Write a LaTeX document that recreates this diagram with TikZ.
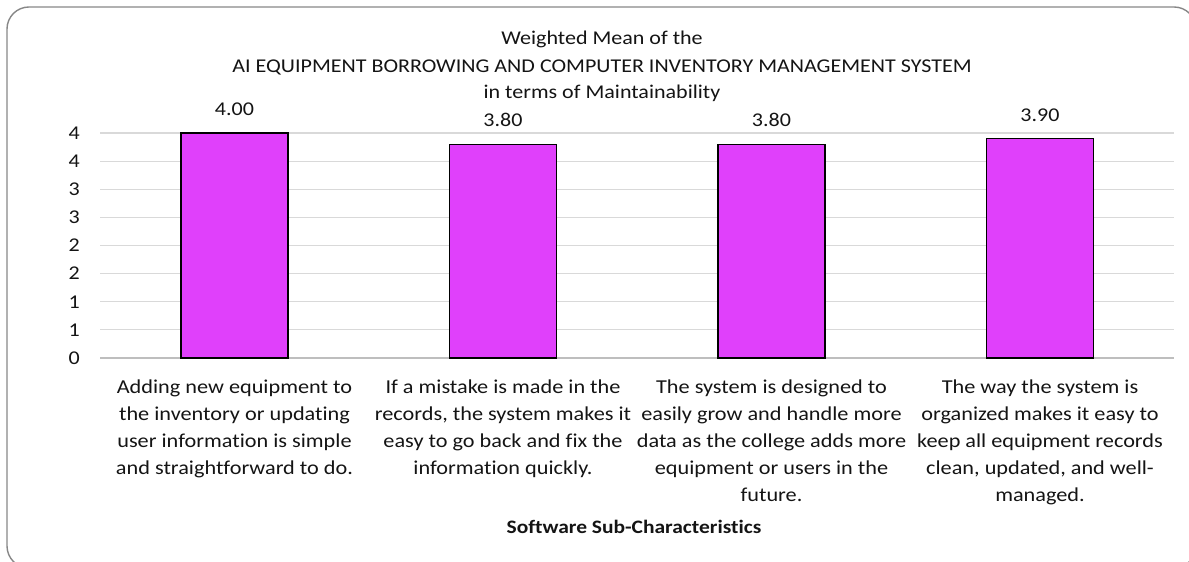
\documentclass[tikz,border=0pt]{standalone}
\usepackage{fontspec}
\setmainfont{Carlito}[FakeStretch=1.13, Ligatures=NoCommon]
\usetikzlibrary{positioning}

\definecolor{barpink}{RGB}{224,64,251}
\definecolor{gridgray}{RGB}{217,217,217}
\definecolor{axisgray}{RGB}{190,190,190}
\definecolor{framegray}{RGB}{135,135,135}
\definecolor{txt}{RGB}{20,20,20}

\begin{document}
\begin{tikzpicture}[x=1pt,y=1pt,
    bar/.style={draw=black, line width=1.3pt, fill=barpink},
    val/.style={font=\fontsize{19.5}{23}\selectfont, text=txt, anchor=base, inner sep=0pt},
    ylab/.style={font=\fontsize{19.5}{23}\selectfont, text=txt, anchor=east, inner sep=0pt},
    cat/.style={font=\fontsize{19.7}{27}\selectfont, text=txt, align=center, anchor=north, inner sep=0pt},
    ttl/.style={font=\fontsize{19.5}{27}\selectfont, text=txt, anchor=base, inner sep=0pt}]

    \useasboundingbox (0,0) rectangle (1189,562);
    \begin{scope}
        \clip (0,0) rectangle (1189,562);
        \draw[framegray, line width=1.4pt, rounded corners=22pt] (7,-6) rectangle (1196,555);
    \end{scope}

    \node[ttl] (T1) at (602,517) {Weighted Mean of the};
    \node[ttl] (T2) at (602,489) {AI EQUIPMENT BORROWING AND COMPUTER INVENTORY MANAGEMENT SYSTEM};
    \node[ttl] (T3) at (602,463) {in terms of Maintainability};

    \foreach \i/\t in {0/0,1/1,2/1,3/2,4/2,5/3,6/3,7/4,8/4} {
        \draw[gridgray, line width=1.2pt] (100,204+28.125*\i) -- (1174,204+28.125*\i);
        \node[ylab] (y\i) at (80,204+28.125*\i) {\t};
    }
    \draw[axisgray, line width=1.5pt] (100,204) -- (1174,204);

    \draw[bar] (181,204) rectangle (288,429);
    \draw[bar] (449.5,204) rectangle (556.5,417.75);
    \draw[bar] (718,204) rectangle (825,417.75);
    \draw[bar] (986.5,204) rectangle (1093.5,423.4);

    \node[val] (v1) at (234.5,446.3) {4.00};
    \node[val] (v2) at (503,435) {3.80};
    \node[val] (v3) at (771.5,435) {3.80};
    \node[val] (v4) at (1040,440.7) {3.90};

    \node[cat] (c1) at (234.5,182) {Adding new equipment to\\the inventory or updating\\user information is simple\\and straightforward to do.};
    \node[cat] (c2) at (503,182) {If a mistake is made in the\\records, the system makes it\\easy to go back and fix the\\information quickly.};
    \node[cat] (c3) at (771.5,182) {The system is designed to\\easily grow and handle more\\data as the college adds more\\equipment or users in the\\future.};
    \node[cat] (c4) at (1040,182) {The way the system is\\organized makes it easy to\\keep all equipment records\\clean, updated, and well-\\managed.};

    \node[font=\fontsize{19}{21}\selectfont\bfseries, text=txt, anchor=base, inner sep=0pt] (xt) at (634,28) {Software Sub-Characteristics};

\end{tikzpicture}
\end{document}
